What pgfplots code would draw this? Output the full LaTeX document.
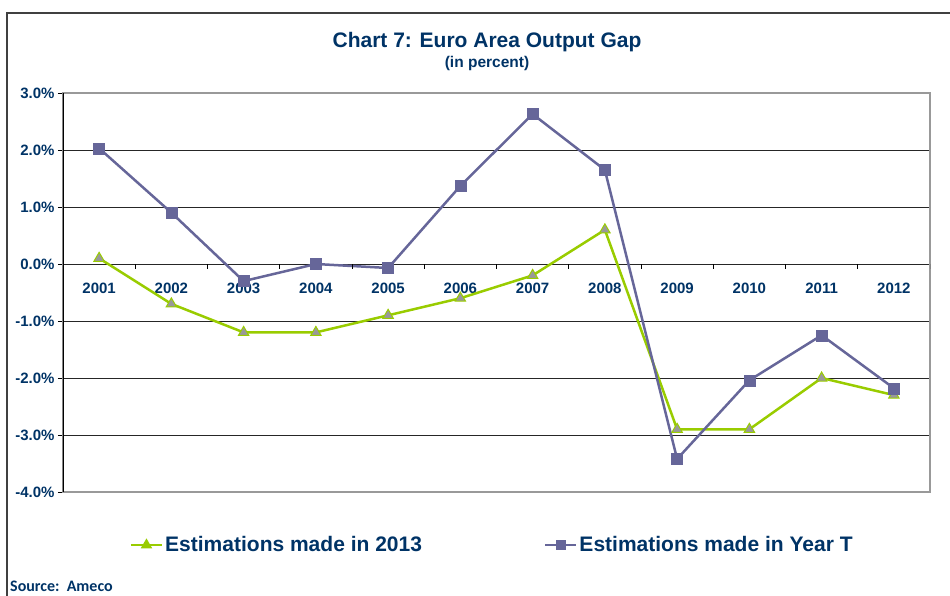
\documentclass[border=0pt]{standalone}
\usepackage{fontspec}
\setmainfont{Liberation Sans}
\newfontfamily\carlito{Carlito}
\usepackage{pgfplots}
\pgfplotsset{compat=1.18}
\definecolor{navy}{HTML}{003366}
\definecolor{purp}{HTML}{666699}
\definecolor{lgreen}{HTML}{99CC00}
\definecolor{mgray}{HTML}{999999}
\begin{document}
\begin{tikzpicture}[x=1pt,y=1pt]
\useasboundingbox (0,0) rectangle (950,-596);
\draw[line width=2pt, black!75] (7,-597) -- (7,-13) -- (951,-13);
\node[font=\bfseries\fontsize{21}{25}\selectfont, text=navy] at (487,-42) {Chart 7: Euro Area Output Gap};
\node[font=\bfseries\fontsize{15.5}{18}\selectfont, text=navy] at (487,-63) {(in percent)};
\node[font=\carlito\bfseries\fontsize{16}{19}\selectfont, text=navy, anchor=west, inner sep=0pt] at (10,-586) {Source:\ \ Ameco};
\begin{axis}[
  at={(63pt,-492pt)}, anchor=south west, scale only axis,
  width=867pt, height=399pt,
  xmin=-0.5, xmax=11.5, ymin=-4, ymax=3,
  ytick={-4,-3,-2,-1,0,1,2,3},
  yticklabels={-4.0\%,-3.0\%,-2.0\%,-1.0\%,0.0\%,1.0\%,2.0\%,3.0\%},
  xtick={0,...,11},
  xticklabels={2001,2002,2003,2004,2005,2006,2007,2008,2009,2010,2011,2012},
  x tick style={draw=none},
  xticklabel style={font=\bfseries\fontsize{15}{18}\selectfont, text=navy, yshift=218pt},
  ymajorgrids, grid style={black!85, line width=0.9pt},
  axis line style={draw=black!40, line width=1.5pt},
  y tick style={black, line width=0.9pt},
  ytick pos=left, tick align=outside, major tick length=5pt,
  yticklabel style={font=\bfseries\fontsize{15}{18}\selectfont, text=navy},
  legend style={at={(0.495,-0.133)}, anchor=center, draw=none, fill=none,
    font=\bfseries\fontsize{21}{25}\selectfont, text=navy,
    /tikz/every even column/.append style={column sep=120pt}},
  legend columns=2,
  legend image code/.code={
    \draw[#1, mark=none] (0pt,0pt) -- (31pt,0pt);
    \draw[#1, mark options={scale=0.7}] plot coordinates {(15.5pt,0pt)};
  },
]
\addplot[color=lgreen, line width=2.5pt, mark=triangle*, mark size=6pt,
  mark options={fill=mgray, draw=lgreen, line width=1pt}]
  coordinates {(0,0.1) (1,-0.7) (2,-1.2) (3,-1.2) (4,-0.9) (5,-0.6) (6,-0.2) (7,0.6) (8,-2.9) (9,-2.9) (10,-2.0) (11,-2.3)};
\addlegendentry{Estimations made in 2013}
\addplot[color=purp, line width=2.5pt, mark=square*, mark size=5.5pt,
  mark options={fill=purp, draw=purp, line width=0.5pt}]
  coordinates {(0,2.03) (1,0.9) (2,-0.3) (3,0.0) (4,-0.07) (5,1.37) (6,2.63) (7,1.65) (8,-3.42) (9,-2.04) (10,-1.25) (11,-2.18)};
\addlegendentry{Estimations made in Year T}
\pgfplotsinvokeforeach{-0.5,0.5,...,11.5}{
  \draw[black, line width=0.9pt] (axis cs:#1,0) -- ([yshift=-5pt]axis cs:#1,0);
}
\draw[black, line width=1.2pt] (rel axis cs:0,0) -- (rel axis cs:0,1);
\end{axis}
\end{tikzpicture}
\end{document}
